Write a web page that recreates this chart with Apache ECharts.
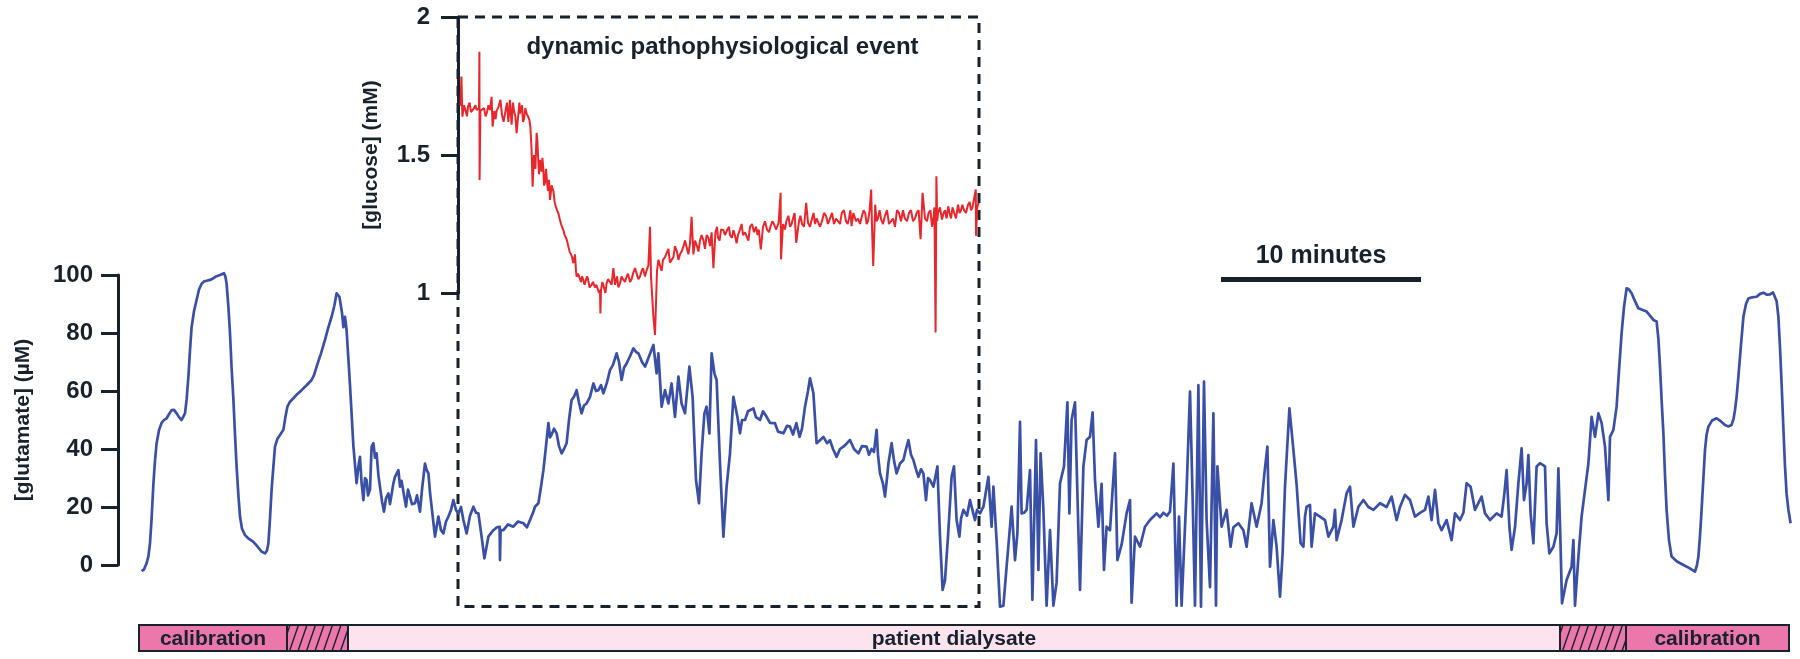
<!DOCTYPE html>
<html>
<head>
<meta charset="utf-8">
<title>glutamate / glucose</title>
<script src="https://cdn.jsdelivr.net/npm/echarts@6/dist/echarts.min.js"></script>
<style>
html,body{margin:0;padding:0;background:#fff;}
#main{width:1800px;height:659px;}
</style>
</head>
<body>
<div id="main"></div>
<script>
// [minutes, µM]
var glutamate_trace = [
[1.18,-2.1],[1.3,-1.5],[1.43,0.6],[1.52,3],[1.6,7.5],[1.68,16],[1.77,28],[1.85,36],[1.93,42],[2.05,46.5],[2.18,49],[2.3,50],[2.43,50.6],[2.55,52],[2.68,53.4],[2.8,53.5],[2.93,52.3],[3.05,51],[3.18,50],[3.27,50.5],[3.35,52.3],[3.43,57],[3.52,65],[3.6,74],[3.68,82],[3.8,87.5],[3.93,91.4],[4.05,95],[4.18,97],[4.3,97.8],[4.43,98],[4.6,98.3],[4.77,98.9],[4.9,99.5],[5.1,100],[5.3,100.6],[5.37,99.5],[5.43,97],[5.52,89],[5.6,80],[5.68,68],[5.77,57],[5.85,45],[5.93,34],[6.02,24],[6.1,16.7],[6.2,12.5],[6.35,10.3],[6.55,9],[6.77,8],[6.98,6.3],[7.18,4.6],[7.35,4],[7.45,5],[7.52,7.5],[7.6,16],[7.68,26],[7.77,34],[7.85,40.8],[7.97,43.5],[8.1,44.8],[8.27,46.6],[8.37,51],[8.47,54.6],[8.6,56.3],[8.77,57.5],[8.97,59],[9.18,60.3],[9.43,62],[9.68,63.8],[9.8,65.5],[9.93,68.4],[10.15,73],[10.35,77.6],[10.5,81.5],[10.68,85.6],[10.82,89.5],[10.93,93.7],[11.07,92.5],[11.2,87],[11.27,82],[11.35,85.6],[11.43,81],[11.6,62],[11.77,41],[11.93,28.2],
[12.02,34],[12.1,37.3],[12.18,28.2],[12.27,22.4],[12.35,30],[12.43,29.3],[12.5,24],[12.6,26],[12.68,40.8],[12.77,42],[12.85,37],[12.93,38.5],[13.02,31],[13.1,27],[13.2,22],[13.3,18.4],[13.4,23],[13.52,24.7],[13.6,21],[13.77,28.2],[13.85,30.4],[14.02,32.7],[14.1,27],[14.18,29],[14.3,24],[14.4,20.1],[14.5,26],[14.6,25.9],[14.7,21],[14.85,21.3],[14.95,24],[15.1,18.4],[15.2,26],[15.35,35],[15.42,33],[15.52,31.6],[15.6,25],[15.68,20.1],[15.78,14],[15.85,9.8],[15.95,14],[16.02,16.7],[16.15,12],[16.27,10.9],[16.4,15],[16.52,16.7],[16.65,19],[16.77,22.4],[16.9,19],[17.02,17.8],[17.15,20],[17.27,15.5],[17.43,10.9],[17.6,17],[17.77,20.1],[17.9,18],[18.02,17.8],[18.18,9.8],[18.32,2.3],[18.42,6],[18.52,9.8],[18.65,11],[18.77,12],[18.95,13],[19.08,13.2],[19.1,1.7],[19.13,12],[19.27,12],[19.5,14],[19.77,13.2],[20,15],[20.27,14.4],[20.45,13],[20.6,15.5],[20.75,18],[20.85,20.1],[21.02,21.3],[21.15,27],[21.27,32.7],[21.4,41],[21.52,48.9],[21.6,44],[21.68,45],[21.8,47],[21.93,45.4],[22.05,41],[22.18,38.5],[22.3,40],[22.43,42],[22.55,50],[22.68,56.9],[22.8,58],[22.93,60.3],[23.05,56],[23.18,52.3],[23.3,55],[23.43,55.7],[23.6,58],[23.77,62.6],[23.9,60],[24.02,60.3],[24.15,62],[24.27,59.2],[24.45,63],[24.6,67.2],[24.75,69],[24.93,73],[25.05,70],[25.18,63.8],[25.3,68],[25.43,69.5],[25.6,72],[25.77,74.7],[25.9,73.5],[26.02,73],[26.2,70],[26.35,68.4],[26.5,71],[26.6,70.7],[26.77,75.9],[26.93,66.1],[27.02,73],[27.18,54.6],[27.35,60.3],[27.52,55.7],[27.68,62.6],[27.85,51.1],[28.02,65],[28.18,55.7],[28.35,52.3],[28.57,68.4],[28.73,58],[28.9,29.3],[29.05,21.3],[29.18,38.5],[29.32,52.3],[29.43,54.6],[29.57,45.4],[29.68,73],[29.82,66.1],[29.93,63.8],[30.1,35],[30.27,9.8],[30.43,27],[30.6,38.5],[30.77,58],[30.97,51.1],[31.1,45.4],[31.2,50],[31.35,50],[31.5,53],[31.77,54],[31.9,51],[32.1,50],[32.25,53],[32.43,51.1],[32.6,49],[32.85,48.9],[33,46],[33.27,45.4],[33.45,48],[33.6,47.7],[33.75,45],[33.92,48.9],[34.08,44.2],[34.2,47],[34.35,54.6],[34.5,60],[34.6,64.4],[34.77,59.2],[34.93,42],[35.1,43],[35.27,44.2],[35.45,42],[35.6,43],[35.75,40],[35.93,37.3],[36.1,40],[36.27,40.8],[36.45,42],[36.6,43.1],[36.8,40],[37.02,38.5],[37.2,41],[37.43,40.8],[37.55,38],[37.68,40],[37.8,39],[37.93,46.6],[38,38],[38.1,31.6],[38.25,28],[38.35,23.6],[38.45,30],[38.52,35],[38.68,42],[38.8,36],[38.93,31.6],[39.1,35],[39.27,36.2],[39.4,40],[39.52,43.1],[39.65,38],[39.77,36.2],[39.9,33],[40.02,30.4],[40.15,33],[40.27,31.6],[40.4,22.4],[40.5,30],[40.6,29.3],[40.77,27],[40.97,34],[41.1,9.8],[41.23,-8.6],[41.35,-5.2],[41.5,9.8],[41.68,30.4],[41.8,34],[41.93,15.5],[42.07,9.8],[42.15,16],[42.27,19],[42.45,17],[42.6,22.4],[42.72,19],[42.85,15.5],[42.95,19],[43.1,17.8],[43.27,20.1],[43.52,30.4],[43.68,13.2],[43.77,27],[43.93,8.6],[44.1,-14.4],[44.27,-14],[44.43,-0.6],[44.6,13.2],[44.68,20.1],[44.85,1.7],[44.97,11],[45.1,49.4],[45.18,17.8],[45.3,18],[45.43,19],[45.6,32.7],[45.72,-12],[45.9,43.1],[46.02,-1.7],[46.13,38.5],[46.27,19],[46.43,-14],[46.6,12],[46.77,-14],[46.93,-6],[47.1,28.2],[47.3,34],[47.47,56.1],[47.57,17.8],[47.68,50],[47.85,56.1],[47.97,24.7],[48.1,-8.6],[48.27,34],[48.43,43.1],[48.6,44.2],[48.73,52.6],[48.85,29.3],[49.02,13.2],[49.18,28],[49.3,-1.7],[49.43,13.2],[49.6,12],[49.85,38.5],[49.97,1.7],[50.18,7],[50.43,17.8],[50.6,22.4],[50.68,-13],[50.85,9.8],[51.1,6.3],[51.35,13.2],[51.6,15.5],[51.93,17.8],[52.1,16.5],[52.27,18],[52.45,17],[52.6,18.4],[52.68,17.8],[52.77,35],[52.93,-14],[53.05,16.7],[53.18,-14],[53.43,25.9],[53.6,59.8],[53.73,23.6],[53.85,-14],[54.02,62],[54.15,-14.4],[54.3,63.2],[54.43,15.5],[54.6,-7.6],[54.77,52.3],[54.9,-14],[54.97,34],[55.18,13.2],[55.43,19],[55.63,6.3],[55.77,13],[56.02,14.4],[56.27,12],[56.43,6.3],[56.68,21.3],[56.93,13.2],[57.18,21.3],[57.32,31.6],[57.47,40.8],[57.6,-0.6],[57.77,15.5],[57.93,6.3],[58.1,-10.9],[58.23,3.9],[58.35,27],[58.57,54],[58.77,39.7],[58.93,27.8],[59.13,7.5],[59.27,6.3],[59.35,16.7],[59.43,20.1],[59.6,20.7],[59.68,6.3],[59.85,17.8],[60.1,16.7],[60.35,15.5],[60.52,9.8],[60.77,13.2],[60.85,19],[60.93,8.6],[61.18,15.5],[61.43,24.7],[61.6,27],[61.77,13.2],[62.02,20.1],[62.27,22.4],[62.52,20],[62.77,19],[63.1,21.3],[63.43,20],[63.68,23.6],[63.93,15.5],[64.1,20],[64.35,24.2],[64.6,22.4],[64.85,16.7],[65.1,18],[65.35,19],[65.52,23.6],[65.68,15.5],[65.85,25.9],[66.02,14.4],[66.18,12],[66.43,15.5],[66.68,8.6],[66.85,17.8],[67.1,15.5],[67.27,18],[67.43,28.2],[67.63,27],[67.85,19],[68.18,23.6],[68.35,17.8],[68.6,15.5],[68.93,17.8],[69.18,16.7],[69.32,24.7],[69.43,32.7],[69.57,13.2],[69.68,5.2],[69.85,13],[70.02,28.2],[70.18,40.2],[70.3,22.4],[70.43,28],[70.52,37.9],[70.63,17.8],[70.77,7.5],[70.93,34],[71.1,35.1],[71.35,34],[71.43,14.4],[71.57,4],[71.77,6.3],[71.93,10.9],[72.02,33.3],[72.13,6.3],[72.2,-13.2],[72.43,-5.2],[72.68,-0.6],[72.77,8.6],[72.85,-14],[73.02,2.8],[73.18,16.7],[73.35,25.9],[73.52,35],[73.68,51.1],[73.85,44.2],[74.02,52.3],[74.18,49],[74.35,40.8],[74.52,22.4],[74.6,44.2],[74.77,46.6],[74.93,54.6],
[75.05,67],[75.18,79.9],[75.3,89],[75.43,95.4],[75.55,95],[75.68,93.7],[75.85,91],[76.02,88.5],[76.2,88],[76.43,87.4],[76.6,86],[76.77,84.5],[76.85,85],[76.93,84],[77.02,78],[77.1,68.4],[77.18,57],[77.27,45.4],[77.35,31],[77.43,19],[77.55,8.5],[77.68,2.9],[77.95,1.2],[78.27,0],[78.55,-1],[78.85,-2.3],[78.95,0],[79.02,2.9],[79.1,10],[79.18,19],[79.27,30],[79.35,39.7],[79.43,45],[79.52,47.7],[79.7,49.8],[79.93,50.6],[80.15,49.5],[80.35,48.3],[80.5,47.8],[80.68,48.3],[80.78,50.5],[80.85,53.4],[80.93,58],[81.02,65],[81.15,76],[81.27,85.6],[81.4,90],[81.52,91.9],[81.7,92.3],[81.93,92.5],[82.1,93.5],[82.27,93.9],[82.45,93.2],[82.6,93.3],[82.75,94],[82.85,94.3],[82.93,91],[83.02,85.6],[83.1,75],[83.18,62.6],[83.27,47],[83.35,34],[83.43,24.5],[83.52,19],[83.63,14.4]
];

// [minutes, mM] inside the event window
var glucose_trace = [
[17.13,1.678],[17.17,1.784],[17.22,1.639],[17.3,1.68],[17.37,1.663],[17.45,1.64],[17.5,1.675],[17.58,1.69],[17.65,1.655],[17.72,1.65],[17.8,1.67],[17.87,1.68],[17.93,1.663],[18.05,1.67],[18.07,1.874],[18.08,1.409],[18.12,1.66],[18.18,1.663],[18.3,1.67],[18.38,1.64],[18.45,1.655],[18.52,1.68],[18.6,1.663],[18.68,1.711],[18.73,1.603],[18.82,1.66],[18.88,1.63],[18.93,1.66],[19,1.67],[19.05,1.68],[19.12,1.7],[19.2,1.645],[19.28,1.62],[19.35,1.65],[19.4,1.67],[19.45,1.69],[19.52,1.62],[19.6,1.7],[19.68,1.61],[19.75,1.69],[19.8,1.66],[19.87,1.64],[19.93,1.579],[20.02,1.65],[20.07,1.69],[20.1,1.65],[20.2,1.68],[20.25,1.62],[20.3,1.63],[20.37,1.67],[20.43,1.65],[20.5,1.64],[20.57,1.627],[20.62,1.6],[20.68,1.518],[20.73,1.385],[20.8,1.5],[20.87,1.45],[20.93,1.58],[20.97,1.55],[21,1.5],[21.05,1.43],[21.1,1.482],[21.18,1.44],[21.22,1.49],[21.27,1.446],[21.3,1.39],[21.35,1.4],[21.4,1.45],[21.43,1.42],[21.5,1.37],[21.55,1.41],[21.6,1.337],[21.64,1.33],[21.68,1.39],[21.72,1.38],[21.77,1.37],[21.83,1.33],[21.9,1.31],[21.95,1.3],[22.02,1.289],[22.08,1.27],[22.15,1.25],[22.2,1.24],[22.27,1.228],[22.33,1.21],[22.4,1.2],[22.45,1.19],[22.52,1.168],[22.58,1.15],[22.65,1.14],[22.7,1.13],[22.77,1.108],[22.85,1.14],[22.9,1.08],[22.93,1.059],[23,1.07],[23.05,1.06],[23.1,1.05],[23.15,1.04],[23.2,1.06],[23.27,1.047],[23.33,1.03],[23.4,1.03],[23.45,1.06],[23.5,1.05],[23.58,1.02],[23.68,1.029],[23.75,1.04],[23.85,1.02],[23.92,1.03],[24,1.03],[24.05,1],[24.1,1.011],[24.12,0.926],[24.15,1.01],[24.22,1.04],[24.3,1.02],[24.37,1],[24.43,1.035],[24.5,1.05],[24.6,1.04],[24.68,1.03],[24.77,1.09],[24.85,1.03],[24.95,1.06],[25.02,1.02],[25.1,1.035],[25.18,1.06],[25.25,1.05],[25.35,1.04],[25.43,1.059],[25.5,1.07],[25.6,1.04],[25.68,1.05],[25.75,1.07],[25.85,1.09],[25.93,1.071],[26.02,1.05],[26.1,1.06],[26.18,1.08],[26.25,1.09],[26.35,1.06],[26.43,1.082],[26.52,1.1],[26.6,1.24],[26.65,1.06],[26.77,0.914],[26.85,0.848],[26.95,1.08],[27.02,1.12],[27.1,1.1],[27.18,1.08],[27.25,1.12],[27.35,1.13],[27.43,1.144],[27.52,1.16],[27.6,1.11],[27.68,1.12],[27.77,1.13],[27.85,1.17],[27.95,1.15],[28.02,1.12],[28.1,1.14],[28.18,1.15],[28.27,1.168],[28.35,1.19],[28.45,1.16],[28.52,1.14],[28.6,1.18],[28.68,1.276],[28.77,1.14],[28.85,1.19],[28.95,1.17],[29.02,1.15],[29.1,1.19],[29.18,1.21],[29.27,1.192],[29.35,1.16],[29.43,1.21],[29.52,1.2],[29.6,1.17],[29.68,1.22],[29.77,1.09],[29.87,1.218],[29.95,1.24],[30,1.2],[30.08,1.19],[30.15,1.23],[30.27,1.228],[30.35,1.21],[30.47,1.23],[30.55,1.24],[30.6,1.21],[30.7,1.2],[30.77,1.228],[30.86,1.205],[30.93,1.18],[31,1.21],[31.1,1.23],[31.18,1.25],[31.25,1.21],[31.35,1.22],[31.45,1.218],[31.52,1.19],[31.6,1.24],[31.7,1.25],[31.8,1.22],[31.9,1.24],[31.98,1.21],[32.04,1.23],[32.14,1.158],[32.25,1.24],[32.35,1.26],[32.45,1.23],[32.55,1.22],[32.63,1.242],[32.72,1.26],[32.8,1.25],[32.9,1.23],[33.03,1.254],[33.13,1.363],[33.15,1.122],[33.25,1.25],[33.35,1.23],[33.42,1.26],[33.52,1.28],[33.6,1.24],[33.68,1.25],[33.75,1.27],[33.83,1.29],[33.91,1.182],[34.05,1.26],[34.12,1.28],[34.2,1.25],[34.3,1.24],[34.41,1.327],[34.5,1.254],[34.6,1.24],[34.7,1.27],[34.78,1.29],[34.85,1.25],[34.93,1.27],[35,1.266],[35.1,1.24],[35.2,1.26],[35.3,1.29],[35.4,1.28],[35.5,1.25],[35.6,1.27],[35.7,1.29],[35.8,1.25],[35.9,1.27],[36,1.27],[36.1,1.25],[36.19,1.29],[36.3,1.3],[36.4,1.26],[36.48,1.25],[36.55,1.27],[36.62,1.3],[36.68,1.242],[36.77,1.29],[36.9,1.26],[37,1.27],[37.1,1.25],[37.2,1.28],[37.28,1.3],[37.36,1.29],[37.43,1.25],[37.5,1.26],[37.58,1.3],[37.66,1.375],[37.7,1.24],[37.76,1.098],[37.86,1.32],[37.93,1.26],[38,1.27],[38.08,1.3],[38.16,1.266],[38.25,1.25],[38.35,1.28],[38.45,1.3],[38.55,1.25],[38.65,1.26],[38.75,1.27],[38.85,1.24],[38.95,1.3],[39.05,1.29],[39.15,1.26],[39.25,1.3],[39.34,1.27],[39.45,1.26],[39.55,1.29],[39.65,1.3],[39.75,1.26],[39.85,1.27],[39.93,1.29],[40.03,1.3],[40.13,1.195],[40.23,1.363],[40.35,1.27],[40.45,1.26],[40.53,1.29],[40.62,1.3],[40.7,1.24],[40.77,1.27],[40.82,1.31],[40.88,0.857],[40.92,1.423],[40.96,1.26],[41,1.29],[41.1,1.31],[41.2,1.266],[41.28,1.29],[41.35,1.3],[41.43,1.27],[41.51,1.314],[41.58,1.29],[41.65,1.27],[41.73,1.31],[41.81,1.29],[41.9,1.27],[42,1.32],[42.08,1.29],[42.15,1.3],[42.22,1.32],[42.3,1.3],[42.4,1.29],[42.5,1.32],[42.58,1.33],[42.65,1.3],[42.72,1.31],[42.8,1.31],[42.89,1.375],[42.9,1.207],[42.96,1.31],[43.03,1.327]
];

// sampling phases along the bottom (minutes)
var phase_names = ['calibration', '', 'patient dialysate', '', 'calibration'];
var phase_kind  = ['calibration', 'switch', 'dialysate', 'switch', 'calibration'];
var phase_start = [1.05, 8.45, 11.5, 72.1, 75.4];
var phase_end   = [8.45, 11.5, 72.1, 75.4, 83.55];

// dashed window round the event, and the 10 min scale bar
var event_window = [17, 43.05];
var event_floor = -14.3;
var scale_bar = [55.15, 65.15];
var scale_bar_level = 98.6;

var INK = '#17222c';
var FONT = '"Liberation Sans", Arial, sans-serif';

var glutamate_figure = {

	init: function(id){
		var myChart = echarts.init(document.getElementById(id));
		myChart.setOption(glutamate_figure.options());
		glutamate_figure.draw_event_box(myChart);
	},

	axis_style: function(min, max, interval, name, gap){
		return {
			type: 'value', min: min, max: max, interval: interval,
			name: name, nameLocation: 'middle', nameGap: gap,
			nameTextStyle: {color: INK, fontSize: 21, fontWeight: 'bold', fontFamily: FONT},
			axisLine: {show: true, onZero: false, lineStyle: {color: INK, width: 3}},
			axisTick: {show: true, length: 17, lineStyle: {color: INK, width: 3}},
			axisLabel: {margin: 25, color: INK, fontSize: 24, fontWeight: 'bold', fontFamily: FONT},
			splitLine: {show: false}
		};
	},

	options: function(){
		var phases = [];
		for (var i = 0; i < phase_names.length; i++) {
			phases.push([phase_start[i], phase_end[i], i]);
		}
		var y0 = glutamate_figure.axis_style(0, 100, 20, '[glutamate] (µM)', 84);
		y0.gridIndex = 0;
		var y1 = glutamate_figure.axis_style(1, 2, 0.5, '[glucose] (mM)', 76);
		y1.gridIndex = 1;
		y1.axisLabel.margin = 28;
		return {
			animation: false,
			backgroundColor: '#fff',
			grid: [
				{left: 118, width: 1677, top: 275, height: 290},
				{left: 458, width: 521, top: 17, height: 276},
				{left: 118, width: 1677, top: 625, height: 26}
			],
			xAxis: [
				{gridIndex: 0, type: 'value', min: 0, max: 83.85, show: false},
				{gridIndex: 1, type: 'value', min: 17, max: 43.05, show: false},
				{gridIndex: 2, type: 'value', min: 0, max: 83.85, show: false}
			],
			yAxis: [y0, y1, {gridIndex: 2, type: 'value', min: 0, max: 1, show: false}],
			series: [
				{
					name: 'glutamate', type: 'line', xAxisIndex: 0, yAxisIndex: 0,
					data: glutamate_trace, showSymbol: false, clip: false, sampling: null,
					lineStyle: {color: '#3a50a6', width: 2.7, join: 'round'},
					markLine: {
						silent: true, symbol: 'none', animation: false,
						lineStyle: {color: INK, width: 5, type: 'solid'},
						label: {show: true, position: 'insideMiddleTop', distance: 10, formatter: '10 minutes',
							color: INK, fontSize: 25, fontWeight: 'bold', fontFamily: FONT},
						data: [[{coord: [scale_bar[0], scale_bar_level]}, {coord: [scale_bar[1], scale_bar_level]}]]
					}
				},
				{
					name: 'glucose', type: 'line', xAxisIndex: 1, yAxisIndex: 1,
					data: glucose_trace, showSymbol: false, clip: false,
					lineStyle: {color: '#e8262b', width: 2}
				},
				{
					name: 'phases', type: 'custom', xAxisIndex: 2, yAxisIndex: 2,
					data: phases, silent: true,
					renderItem: glutamate_figure.phase_item
				}
			]
		};
	},

	// one block of the sampling bar
	phase_item: function(params, api){
		var i = api.value(2);
		var a = api.coord([api.value(0), 1]);
		var b = api.coord([api.value(1), 0]);
		var x = a[0], y = a[1], w = b[0] - a[0], h = b[1] - a[1];
		var kind = phase_kind[i];
		var fill = kind == 'dialysate' ? '#fde3ed' : '#ec77aa';
		var children = [{
			type: 'rect', shape: {x: x, y: y, width: w, height: h},
			style: {fill: fill, stroke: INK, lineWidth: 2}
		}];
		if (kind == 'switch') {
			var dx = 9, step = 8.5;
			for (var s = x - dx + 3; s < x + w; s += step) {
				var xb = s, yb = y + h, xt = s + dx, yt = y;
				if (xb < x) { yb = y + h - (x - xb) * h / dx; xb = x; }
				if (xt > x + w) { yt = y + (xt - x - w) * h / dx; xt = x + w; }
				if (yb <= yt) continue;
				children.push({type: 'line', shape: {x1: xb, y1: yb, x2: xt, y2: yt},
					style: {stroke: INK, lineWidth: 1.4}});
			}
		}
		if (phase_names[i]) {
			children.push({type: 'text', style: {
				text: phase_names[i], x: x + w / 2, y: y + h / 2 + 1,
				align: 'center', verticalAlign: 'middle',
				fontSize: 21, fontWeight: 'bold', fontFamily: FONT, fill: INK
			}});
		}
		return {type: 'group', children: children};
	},

	// dashed frame round the event window, placed from the axes
	draw_event_box: function(chart){
		var p0 = chart.convertToPixel({gridIndex: 1}, [event_window[0], 2]);
		var p1 = chart.convertToPixel({gridIndex: 0}, [event_window[1], event_floor]);
		chart.setOption({
			graphic: [
				{
					type: 'rect', z: 0, silent: true,
					shape: {x: p0[0], y: p0[1], width: p1[0] - p0[0], height: p1[1] - p0[1]},
					style: {fill: 'none', stroke: INK, lineWidth: 3, lineDash: [10, 7]}
				},
				{
					type: 'text', z: 5, silent: true,
					style: {
						text: 'dynamic pathophysiological event',
						x: (p0[0] + p1[0]) / 2 + 4, y: 47,
						align: 'center', verticalAlign: 'middle',
						fontSize: 24, fontWeight: 'bold', fontFamily: FONT, fill: INK
					}
				}
			]
		});
	}
};

glutamate_figure.init('main');
</script>
</body>
</html>
